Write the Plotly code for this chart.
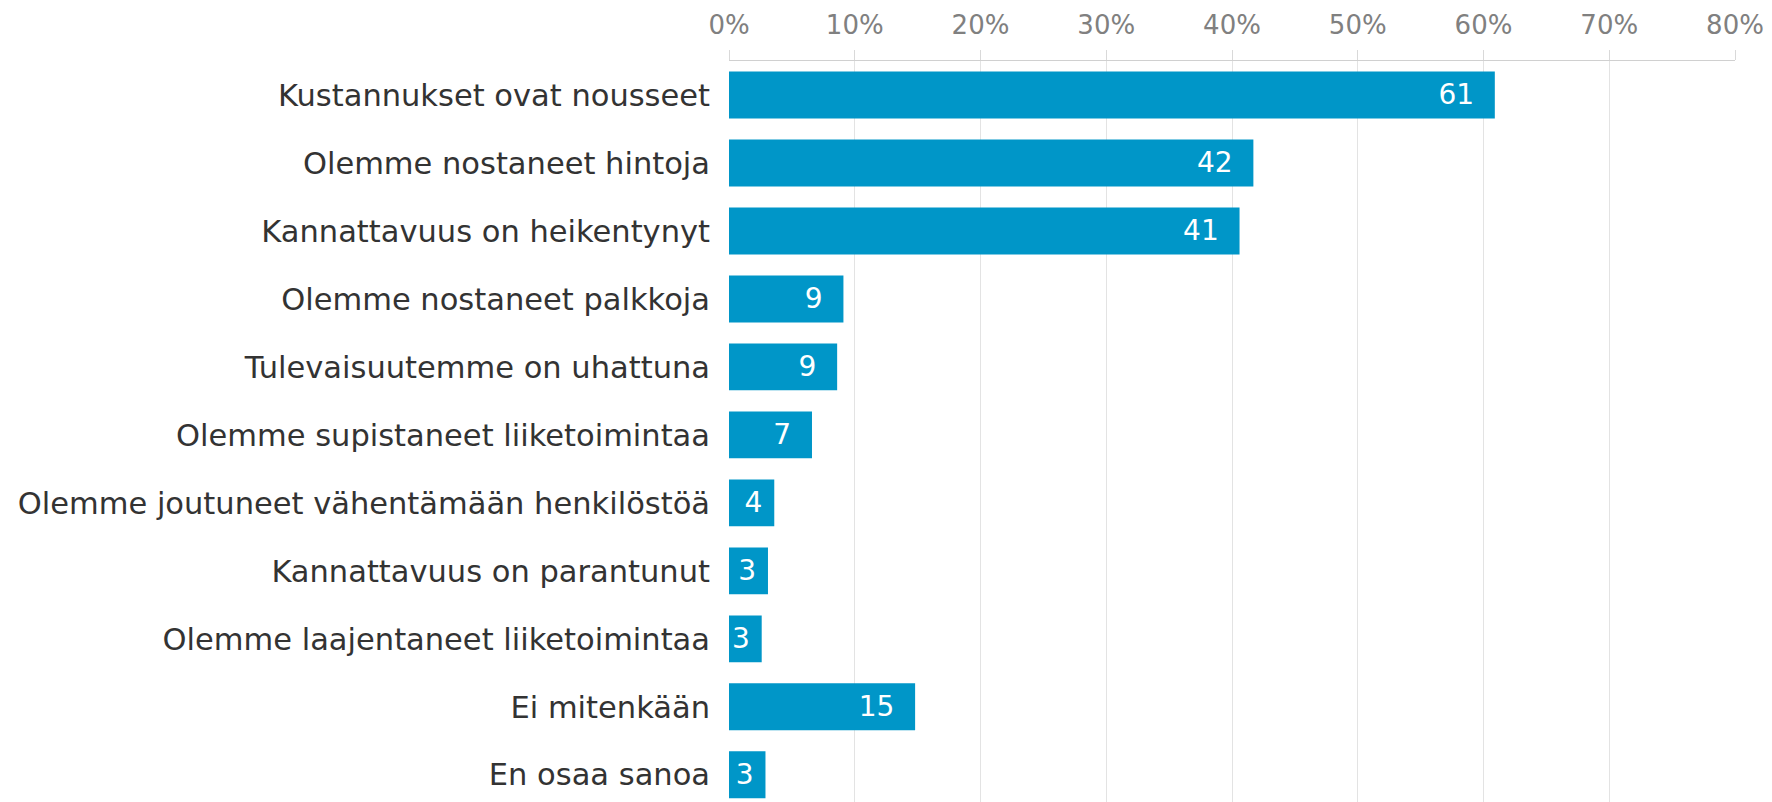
import plotly.graph_objects as go

# answers, top to bottom
categories = [
    "Kustannukset ovat nousseet",
    "Olemme nostaneet hintoja",
    "Kannattavuus on heikentynyt",
    "Olemme nostaneet palkkoja",
    "Tulevaisuutemme on uhattuna",
    "Olemme supistaneet liiketoimintaa",
    "Olemme joutuneet vähentämään henkilöstöä",
    "Kannattavuus on parantunut",
    "Olemme laajentaneet liiketoimintaa",
    "Ei mitenkään",
    "En osaa sanoa",
]
# share of respondents, %
values = [60.9, 41.7, 40.6, 9.1, 8.6, 6.6, 3.6, 3.1, 2.6, 14.8, 2.9]
# data labels as printed on the bars
labels = ["61", "42", "41", "9", "9", "7", "4", "3", "3", "15", "3"]

tick_vals = [0, 10, 20, 30, 40, 50, 60, 70, 80]
tick_text = ["0%", "10%", "20%", "30%", "40%", "50%", "60%", "70%", "80%"]

FONT = "DejaVu Sans"

# little gap between the label and the bar end (less on the tiny bars)
bar_text = [t + ("\u00a0\u00a0" if v >= 5 else "\u00a0") for t, v in zip(labels, values)]

fig = go.Figure()
fig.add_trace(go.Bar(
    x=values,
    y=categories,
    orientation="h",
    marker=dict(color="#0096c8", line=dict(width=0)),
    text=bar_text,
    textposition="inside",
    insidetextanchor="end",
    textangle=0,
    textfont=dict(family=FONT, size=28, color="white"),
    cliponaxis=False,
    hoverinfo="x+y",
))

fig.update_layout(
    width=1772,
    height=802,
    margin=dict(l=729, r=37, t=61, b=0, autoexpand=False),
    paper_bgcolor="white",
    plot_bgcolor="white",
    showlegend=False,
    bargap=0.31,
    uniformtext=dict(minsize=28, mode="show"),
    font=dict(family=FONT),
)

fig.update_xaxes(
    side="top",
    range=[0, 80],
    automargin=False,
    tickvals=tick_vals,
    ticktext=tick_text,
    tickfont=dict(family=FONT, size=26, color="#808080"),
    showgrid=True,
    gridcolor="#e3e3e3",
    gridwidth=1,
    showline=True,
    linecolor="#d0d0d0",
    linewidth=1,
    ticks="outside",
    ticklen=10,
    tickcolor="#d9d9d9",
    zeroline=False,
    ticklabelstandoff=6,
)

fig.update_yaxes(
    type="category",
    categoryorder="array",
    categoryarray=categories,
    range=[10.4, -0.5],
    automargin=False,
    tickfont=dict(family=FONT, size=30.5, color="#333333"),
    showgrid=False,
    showline=False,
    ticks="",
    ticklabelstandoff=18,
)

# page body has a default 8px margin; drop it so the figure sits at 0,0
fig.write_html("out.html", config={"displayModeBar": False},
               post_script="document.body.style.margin='0';")
